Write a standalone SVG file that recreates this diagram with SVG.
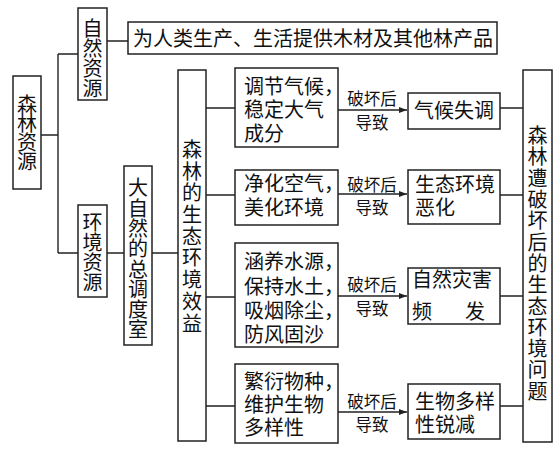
<svg xmlns="http://www.w3.org/2000/svg" width="560" height="457" viewBox="0 0 560 457">
<style>
.b{fill:#fff;stroke:#222;stroke-width:1.5}
.c{fill:none;stroke:#222;stroke-width:1.4}
text{font-family:"Noto Sans CJK SC","Noto Sans CJK JP",sans-serif;fill:#111}
.t{font-size:20px;font-family:"Liberation Sans","Noto Sans CJK SC",sans-serif}
.v{font-size:20px;text-anchor:middle;writing-mode:vertical-rl}
.s{font-size:16.5px;text-anchor:middle;font-family:"Liberation Sans","Noto Sans CJK SC",sans-serif}
</style>
<defs>
<marker id="ah" markerWidth="8" markerHeight="6" refX="8" refY="3" orient="auto" markerUnits="userSpaceOnUse">
<path d="M0,0 L8,3 L0,6 Z" fill="#222"/>
</marker>
</defs>
<rect width="560" height="457" fill="#fff"/>
<g id="connectors">
<path class="c" d="M41,135 H58 M58,54 V253 M58,54 H78 M58,253 H78 M107,41 H128 M107,253 H124 M152,253 H178"/>
<path class="c" d="M206,108 H235 M206,195 H235 M206,297 H235 M206,406 H235"/>
<path class="c" d="M338,110 H407" marker-end="url(#ah)"/>
<path class="c" d="M338,194 H407" marker-end="url(#ah)"/>
<path class="c" d="M338,296 H407" marker-end="url(#ah)"/>
<path class="c" d="M338,412 H407" marker-end="url(#ah)"/>
<path class="c" d="M500,108 H523 M500,195 H523 M500,296 H523 M500,406 H523"/>
<text class="s" x="372" y="105">破坏后</text>
<text class="s" x="372" y="129">导致</text>
<text class="s" x="372" y="191">破坏后</text>
<text class="s" x="372" y="214">导致</text>
<text class="s" x="372" y="291">破坏后</text>
<text class="s" x="372" y="315">导致</text>
<text class="s" x="372" y="408">破坏后</text>
<text class="s" x="372" y="431">导致</text>
</g>
<g id="senlin">
<rect class="b" x="13" y="76" width="28" height="113"/>
<text class="v" x="27" y="132" letter-spacing="-1">森林资源</text>
</g>
<g id="ziran">
<rect class="b" x="78" y="8" width="29" height="92"/>
<text class="v" x="92.5" y="58">自然资源</text>
</g>
<g id="top">
<rect class="b" x="128" y="22" width="369" height="32"/>
<text class="t" x="133" y="46">为人类生产、生活提供木材及其他林产品</text>
</g>
<g id="huanjing">
<rect class="b" x="78" y="205" width="29" height="92"/>
<text class="v" x="92.5" y="252.5">环境资源</text>
</g>
<g id="daziran">
<rect class="b" x="124" y="166" width="28" height="179"/>
<text class="v" x="138" y="259" letter-spacing="0.3">大自然的总调度室</text>
</g>
<g id="xiaoyi">
<rect class="b" x="178" y="70" width="28" height="371"/>
<text class="v" x="192" y="237" letter-spacing="1.7">森林的生态环境效益</text>
</g>
<g id="b1">
<rect class="b" x="235" y="68" width="103" height="79"/>
<text class="t" x="244" y="94">调节气候，</text>
<text class="t" x="244" y="117">稳定大气</text>
<text class="t" x="244" y="141">成分</text>
</g>
<g id="b2">
<rect class="b" x="235" y="170" width="103" height="55"/>
<text class="t" x="244" y="191">净化空气，</text>
<text class="t" x="244" y="215">美化环境</text>
</g>
<g id="b3">
<rect class="b" x="235" y="243" width="103" height="104"/>
<text class="t" x="244" y="269">涵养水源，</text>
<text class="t" x="244" y="294">保持水土，</text>
<text class="t" x="244" y="318">吸烟除尘，</text>
<text class="t" x="244" y="342">防风固沙</text>
</g>
<g id="b4">
<rect class="b" x="235" y="364" width="103" height="79"/>
<text class="t" x="244" y="389">繁衍物种，</text>
<text class="t" x="244" y="412">维护生物</text>
<text class="t" x="244" y="435">多样性</text>
</g>
<g id="r1">
<rect class="b" x="408" y="93" width="92" height="36"/>
<text class="t" x="454" y="118" text-anchor="middle" font-size="21">气候失调</text>
</g>
<g id="r2">
<rect class="b" x="408" y="170" width="92" height="54"/>
<text class="t" x="415" y="192">生态环境</text>
<text class="t" x="415" y="215">恶化</text>
</g>
<g id="r3">
<rect class="b" x="408" y="268" width="92" height="56"/>
<text class="t" x="412" y="287">自然灾害</text>
<text class="t" x="412" y="319">频</text>
<text class="t" x="465" y="319">发</text>
</g>
<g id="r4">
<rect class="b" x="408" y="384" width="92" height="55"/>
<text class="t" x="415" y="409">生物多样</text>
<text class="t" x="415" y="432">性锐减</text>
</g>
<g id="wenti">
<rect class="b" x="523" y="70" width="29" height="372"/>
<text class="v" x="537.5" y="264" letter-spacing="1.3">森林遭破坏后的生态环境问题</text>
</g>
</svg>
